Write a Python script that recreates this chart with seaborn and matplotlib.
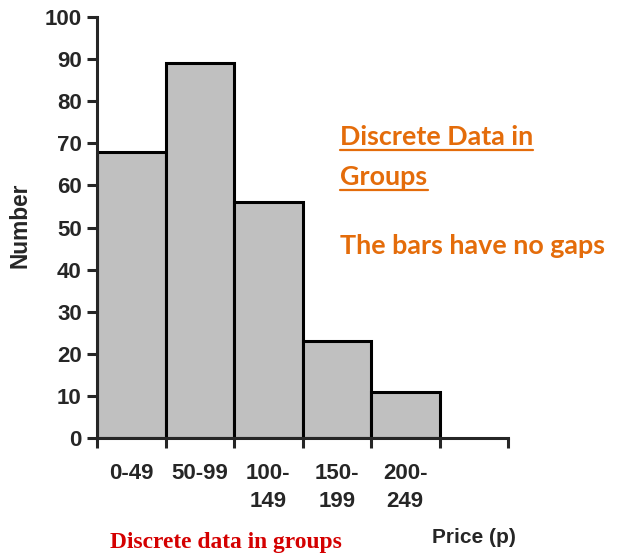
import numpy as np
import pandas as pd
import seaborn as sns
import matplotlib.pyplot as plt

price_groups = ["0-49", "50-99", "100-\n149", "150-\n199", "200-\n249"]
counts = [68, 89, 56, 23, 11]
y_ticks = [0, 10, 20, 30, 40, 50, 60, 70, 80, 90, 100]

df = pd.DataFrame({"Price": price_groups, "Number": counts})

sns.set_style("ticks")
plt.rcParams["font.family"] = ["Liberation Sans", "DejaVu Sans"]

W, H = 617, 554
fig = plt.figure(figsize=(W / 100, H / 100), dpi=100)
ax = fig.add_axes([97 / W, 1 - 438 / H, 411 / W, 421 / H])

sns.barplot(data=df, x="Price", y="Number", order=price_groups, width=1.0,
            color="#c0c0c0", saturation=1, edgecolor="black", linewidth=2.2, ax=ax)

ax.set_xlim(-0.5, 5.5)
ax.set_ylim(0, 100)
ax.set_yticks(y_ticks)
ax.set_yticklabels([str(v) for v in y_ticks], fontsize=16, fontweight="bold")

# bar edges get the tick marks, group labels sit under the bar centres
ax.set_xticks(np.arange(-0.5, 6.0, 1.0))
ax.set_xticklabels([])
ax.set_xticks(range(len(price_groups)), minor=True)
ax.set_xticklabels(price_groups, minor=True, fontsize=16, fontweight="bold",
                   va="top", linespacing=1.45)
ax.tick_params(axis="x", which="minor", length=0, pad=18)
ax.tick_params(axis="x", which="major", direction="out", length=7, width=2.2)
ax.tick_params(axis="y", direction="out", length=7, width=2.2, pad=4)

sns.despine(ax=ax)
for side in ["left", "bottom"]:
    ax.spines[side].set_linewidth(2.2)

ax.set_xlabel("")
ax.set_ylabel("")
fig.text(20 / W, 1 - 225 / H, "Number", fontsize=16.3, fontweight="bold",
         rotation=90, ha="center", va="center")

fig.text(474 / W, 1 - 543 / H, "Price (p)", fontsize=15, fontweight="bold",
         ha="center", va="baseline")
fig.text(110 / W, 1 - 548 / H, "Discrete data in groups", fontsize=16.9,
         fontweight="bold", color="#d40000", family="Liberation Serif",
         ha="left", va="baseline")

orange = "#e46c0a"
kw = dict(fontsize=19.4, fontweight="bold", color=orange, family="Lato",
          ha="left", va="baseline")
fig.text(340 / W, 1 - 145 / H, "Discrete Data in", **kw)
fig.text(340 / W, 1 - 185 / H, "Groups", **kw)
fig.text(340 / W, 1 - 254 / H, "The bars have no gaps", **kw)
fig.add_artist(plt.Line2D([340 / W, 533 / W], [1 - 150 / H, 1 - 150 / H],
                          color=orange, linewidth=1.6))
fig.add_artist(plt.Line2D([340 / W, 428 / W], [1 - 190 / H, 1 - 190 / H],
                          color=orange, linewidth=1.6))

fig.savefig("out.png", dpi=100)
